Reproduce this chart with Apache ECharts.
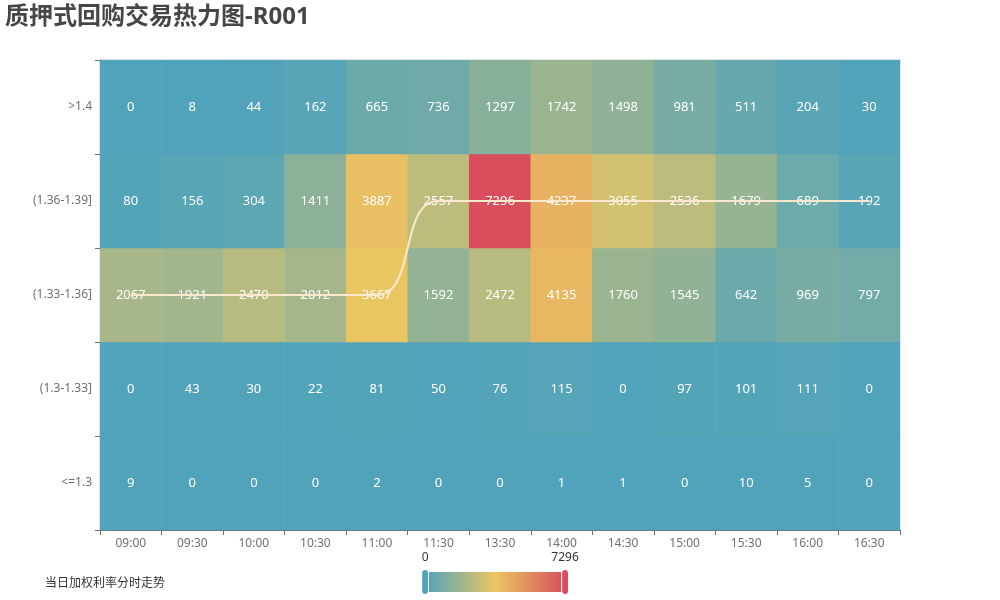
<!DOCTYPE html>
<html>
<head>
<meta charset="utf-8">
<script src="https://cdn.jsdelivr.net/npm/echarts@6/dist/echarts.min.js"></script>
<style>
  html, body { margin: 0; padding: 0; }
  #main { width: 1000px; height: 600px; }
</style>
</head>
<body>
<div id="main"></div>
<script>
// 时间段
var times = ['09:00', '09:30', '10:00', '10:30', '11:00', '11:30', '13:30',
  '14:00', '14:30', '15:00', '15:30', '16:00', '16:30'];
// 利率区间 (从下到上)
var ranges = ['<=1.3', '(1.3-1.33]', '(1.33-1.36]', '(1.36-1.39]', '>1.4'];

// 每个区间的成交笔数
var rowLe130 = [9, 0, 0, 0, 2, 0, 0, 1, 1, 0, 10, 5, 0];
var row130_133 = [0, 43, 30, 22, 81, 50, 76, 115, 0, 97, 101, 111, 0];
var row133_136 = [2067, 1921, 2470, 2012, 3667, 1592, 2472, 4135, 1760, 1545, 642, 969, 797];
var row136_139 = [80, 156, 304, 1411, 3887, 2557, 7296, 4237, 3055, 2536, 1679, 689, 192];
var rowGt140 = [0, 8, 44, 162, 665, 736, 1297, 1742, 1498, 981, 511, 204, 30];

// 当日加权利率所在区间
var rateTrend = ['(1.33-1.36]', '(1.33-1.36]', '(1.33-1.36]', '(1.33-1.36]', '(1.33-1.36]',
  '(1.36-1.39]', '(1.36-1.39]', '(1.36-1.39]', '(1.36-1.39]', '(1.36-1.39]',
  '(1.36-1.39]', '(1.36-1.39]', '(1.36-1.39]'];

var visMin = 0;
var visMax = 7296;

var rows = [rowLe130, row130_133, row133_136, row136_139, rowGt140];
var heatData = [];
for (var r = 0; r < rows.length; r++) {
  for (var c = 0; c < times.length; c++) {
    heatData.push([c, r, rows[r][c]]);
  }
}

var fontFam = '"Noto Sans", "Noto Sans CJK SC", sans-serif';

var chart = echarts.init(document.getElementById('main'));
var option = {
  textStyle: { fontFamily: fontFam },
  title: {
    text: '质押式回购交易热力图-R001',
    left: 0,
    top: 0,
    textStyle: { fontSize: 24, fontWeight: 'bold', color: '#464646', fontFamily: fontFam }
  },
  legend: {
    data: ['当日加权利率分时走势'],
    left: 10,
    bottom: 5,
    icon: 'none',
    textStyle: { color: '#333', fontSize: 12 }
  },
  grid: { left: 100, right: 100, top: 60, bottom: 70 },
  xAxis: {
    type: 'category',
    data: times,
    axisLine: { lineStyle: { color: '#6e7079' } },
    axisTick: { show: true },
    axisLabel: { color: '#6e7079', fontSize: 12 }
  },
  yAxis: {
    type: 'category',
    data: ranges,
    axisLine: { lineStyle: { color: '#6e7079' } },
    axisTick: { show: true },
    axisLabel: { color: '#6e7079', fontSize: 12 }
  },
  visualMap: {
    min: visMin,
    max: visMax,
    calculable: true,
    orient: 'horizontal',
    left: 'center',
    bottom: -10,
    seriesIndex: 0,
    inRange: { color: ['#50a3ba', '#eac763', '#d94e5d'] },
    textStyle: { color: '#333' }
  },
  series: [
    {
      name: '成交笔数',
      type: 'heatmap',
      data: heatData,
      label: { show: true, color: '#fff', fontSize: 13 }
    },
    {
      name: '当日加权利率分时走势',
      type: 'line',
      data: rateTrend,
      smooth: true,
      showSymbol: false,
      symbol: 'none',
      z: 5,
      lineStyle: { color: '#fbe8cf', width: 2 },
      itemStyle: { color: '#fbe8cf' }
    }
  ]
};
chart.setOption(option);
</script>
</body>
</html>
